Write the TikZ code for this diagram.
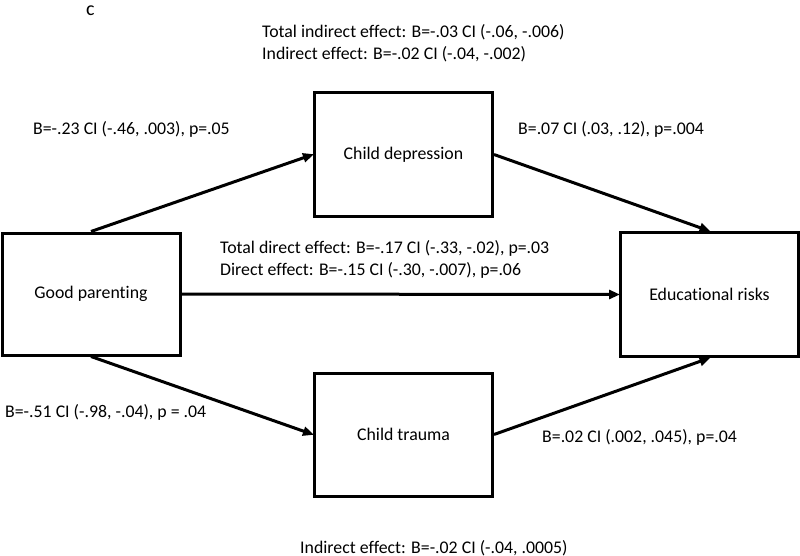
\documentclass[tikz,border=0pt]{standalone}
\usepackage{fontspec}
\setmainfont{Carlito}[Ligatures={NoCommon}]
\usetikzlibrary{arrows.meta}
\tikzset{
  box/.style={draw=black, line width=3pt, fill=white, inner sep=0pt, minimum width=178pt, minimum height=123pt, font=\fontsize{17.8}{21}\selectfont},
  lbl/.style={anchor=base west, inner sep=0pt, font=\fontsize{17.8}{21}\selectfont},
  conn/.style={line width=3pt, -{Triangle[length=11pt,width=9pt]}, shorten >=-1pt}
}
\begin{document}
\begin{tikzpicture}[x=1pt,y=-1pt]
\useasboundingbox (0,0) rectangle (800,556);
\node[box, minimum height=122pt] (GP) at (91,294) {Good parenting};
\node[box] (CD) at (403.5,154.5) {Child depression};
\node[box, minimum height=124pt] (ER) at (709.5,294.5) {Educational risks};
\node[box] (CT) at (403.5,434.5) {Child trauma};
\draw[conn] (GP.north) -- (CD.west);
\draw[conn] (CD.east) -- (ER.north);
\draw[conn] (GP.east) -- (ER.west);
\draw[conn] (GP.south) -- (CT.west);
\draw[conn] (CT.east) -- (ER.south);
\node[lbl, font=\fontsize{20}{24}\selectfont] (c) at (86,16) {c};
\node[lbl] (ti) at (262,38) {Total indirect effect: B=-.03 CI (-.06, -.006)};
\node[lbl] (ie) at (262,60) {Indirect effect: B=-.02 CI (-.04, -.002)};
\node[lbl] (a1) at (33,135) {B=-.23 CI (-.46, .003), p=.05};
\node[lbl] (b1) at (518,135) {B=.07 CI (.03, .12), p=.004};
\node[lbl] (td) at (220,253) {Total direct effect: B=-.17 CI (-.33, -.02), p=.03};
\node[lbl] (de) at (220,275) {Direct effect: B=-.15 CI (-.30, -.007), p=.06};
\node[lbl] (a2) at (5,417) {B=-.51 CI (-.98, -.04), p = .04};
\node[lbl] (b2) at (542,442) {B=.02 CI (.002, .045), p=.04};
\node[lbl] (ie2) at (300,553) {Indirect effect: B=-.02 CI (-.04, .0005)};
\end{tikzpicture}
\end{document}
